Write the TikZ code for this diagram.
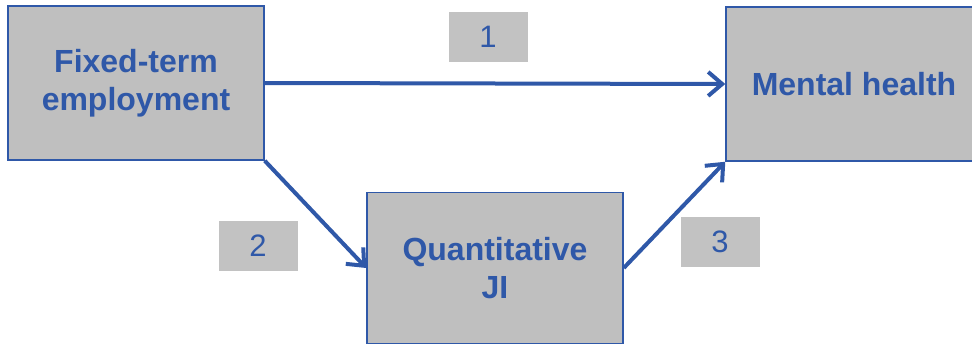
\documentclass[tikz,border=0pt]{standalone}
\usepackage{fontspec}
\setmainfont{Liberation Sans}
\usetikzlibrary{arrows.meta}
\definecolor{boxblue}{RGB}{47,88,168}
\definecolor{boxgray}{RGB}{191,191,191}
\definecolor{labgray}{RGB}{194,194,194}

\begin{document}
\begin{tikzpicture}[x=1pt, y=-1pt, >={Straight Barb[length=14pt,width=24pt,line width=4pt]},
    box/.style={draw=boxblue, line width=1.5pt, fill=boxgray, text=boxblue, align=center,
        minimum width=256pt, font=\fontsize{32}{38}\selectfont\bfseries, inner sep=0pt},
    lab/.style={fill=labgray, text=boxblue, minimum width=79pt, minimum height=50pt,
        font=\fontsize{31}{37}\selectfont, inner sep=0pt},
    link/.style={->, draw=boxblue, line width=4pt}]
    \useasboundingbox (0,0) rectangle (972,345);
    % Nodes {emp, qji, mh, lab1, lab2, lab3}
    \node [box, minimum height=154pt] (emp) at (136,83)  {Fixed-term\\employment};
    \node [box, minimum height=154pt] (mh)  at (854,84)  {Mental health};
    \node [box, minimum height=151pt] (qji) at (495,268) {Quantitative\\JI};
    \node [lab] (lab1) at (488,37)  {1};
    \node [lab] (lab2) at (258,246) {2};
    \node [lab] (lab3) at (720,242) {3};

    % Paths
    \path (emp.east)        edge [link] (mh.west);
    \path (emp.south east)  edge [link] (qji.west);
    \path (qji.east)        edge [link] (mh.south west);
\end{tikzpicture}
\end{document}
